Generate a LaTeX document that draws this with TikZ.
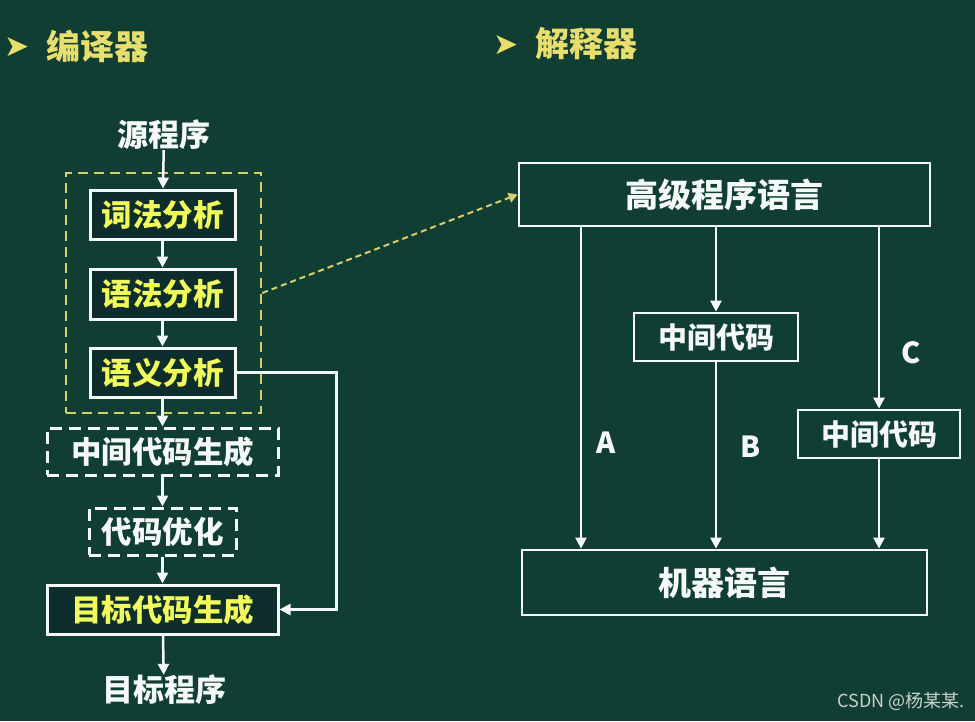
\documentclass[tikz,border=0pt]{standalone}
\usepackage{fontspec}
\usetikzlibrary{arrows.meta}
\newfontfamily\cjk{Noto Sans CJK SC}
\newfontfamily\symf{DejaVu Sans}
\definecolor{bg}{RGB}{17,62,50}
\definecolor{boxfill}{RGB}{13,46,44}
\definecolor{ylw}{RGB}{240,250,90}
\definecolor{ttl}{RGB}{232,222,110}
\definecolor{ydash}{RGB}{214,206,110}
\definecolor{wht}{RGB}{245,248,248}
\definecolor{wm}{RGB}{200,210,205}
\tikzset{
  lbox/.style={draw=wht, line width=3pt, fill=boxfill, inner sep=0pt, text=ylw,
    font=\cjk\bfseries\fontsize{30.5}{33}\selectfont},
  dbox/.style={draw=wht, line width=3pt, dash pattern=on 12pt off 7pt, inner sep=0pt, text=wht,
    font=\cjk\bfseries\fontsize{30.5}{33}\selectfont},
  rbox/.style={draw=wht, line width=2.8pt, inner sep=0pt, text=wht,
    font=\cjk\bfseries\fontsize{33}{36}\selectfont},
  rsbox/.style={draw=wht, line width=2.8pt, inner sep=0pt, text=wht,
    font=\cjk\bfseries\fontsize{29}{32}\selectfont},
  plain/.style={text=wht, inner sep=0pt, font=\cjk\bfseries\fontsize{31}{34}\selectfont},
  lbl/.style={text=wht, inner sep=0pt, font=\cjk\bfseries\fontsize{29}{32}\selectfont},
  ttlf/.style={text=ttl, inner sep=0pt, font=\cjk\bfseries\fontsize{34}{37}\selectfont},
  bul/.style={text=ttl, inner sep=0pt, font=\symf\fontsize{30}{32}\selectfont},
  arr/.style={draw=wht, line width=2.5pt, -{Triangle[width=11pt,length=11pt]}},
  yarr/.style={draw=ydash, line width=2pt, dash pattern=on 6pt off 4pt, -{Triangle[width=10pt,length=9pt,fill=ydash]}},
}
\begin{document}
\begin{tikzpicture}[x=1pt,y=-1pt]
\useasboundingbox (0,0) rectangle (975,721);
\fill[bg] (0,0) rectangle (975,721);

% titles
\node[bul] (b1) at (17,47) {➤};
\node[ttlf, anchor=west] (t1) at (46,46) {编译器};
\node[bul] (b2) at (506,45) {➤};
\node[ttlf, anchor=west] (t2) at (535,44) {解释器};

% compiler column
\node[plain] (src) at (164,135) {源程序};
\node[draw=ydash, line width=2.5pt, dash pattern=on 10pt off 6pt, minimum width=195pt, minimum height=240pt, inner sep=0pt] (grp) at (163.5,293) {};
\node[lbox, minimum width=145pt, minimum height=49pt] (cf) at (162.5,214.5) {词法分析};
\node[lbox, minimum width=145pt, minimum height=50pt] (yf) at (162.5,294) {语法分析};
\node[lbox, minimum width=145pt, minimum height=49pt] (yy) at (162.5,372.5) {语义分析};
\node[dbox, minimum width=231pt, minimum height=47pt] (zj) at (162.5,451.5) {中间代码生成};
\node[dbox, minimum width=147pt, minimum height=47pt] (yh) at (162.5,531.5) {代码优化};
\node[lbox, minimum width=231pt, minimum height=49pt] (mb) at (162.5,609.5) {目标代码生成};
\node[plain] (dst) at (164,690) {目标程序};

\draw[arr] (src) -- (cf);
\draw[arr] (cf) -- (yf);
\draw[arr] (yf) -- (yy);
\draw[arr] (yy) -- (zj);
\draw[arr] (zj) -- (yh);
\draw[arr] (yh) -- (mb);
\draw[arr] (mb) -- (dst);
\draw[arr] (yy.east) -- ++(100,0) |- (mb.east);

% interpreter
\node[rbox, minimum width=411pt, minimum height=63pt] (hl) at (724.5,194.5) {高级程序语言};
\node[rsbox, minimum width=164pt, minimum height=48pt] (m1) at (716,337) {中间代码};
\node[rsbox, minimum width=162pt, minimum height=48pt] (m2) at (879,434) {中间代码};
\node[rbox, minimum width=405pt, minimum height=65pt] (jq) at (724.5,582.5) {机器语言};

\coordinate (xa) at (581,0);
\draw[arr] (xa |- hl.south) -- (xa |- jq.north);
\draw[arr] (m1 |- hl.south) -- (m1.north);
\draw[arr] (m1.south) -- (m1.south |- jq.north);
\draw[arr] (m2 |- hl.south) -- (m2.north);
\draw[arr] (m2.south) -- (m2.south |- jq.north);

\node[lbl] (la) at (606,443) {A};
\node[lbl] (lb) at (751,447) {B};
\node[lbl] (lc) at (911,353) {C};

\draw[yarr] (grp.east) -- (hl.west);

\node[text=wm, inner sep=0pt, font=\cjk\fontsize{18}{20}\selectfont] (wmk) at (901,701) {CSDN @杨某某.};
\end{tikzpicture}
\end{document}
